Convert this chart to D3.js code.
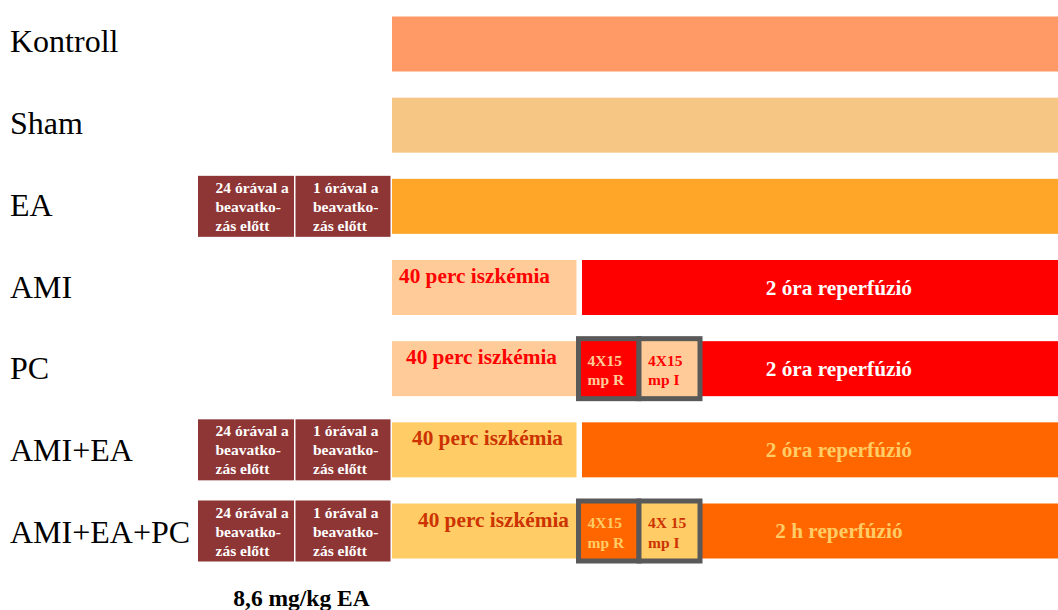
<!DOCTYPE html>
<meta charset="utf-8">
<script src="https://d3js.org/d3.v7.min.js"></script>
<style>
  body { margin: 0; background: #fff; }
  text { font-family: "Liberation Serif", "Times New Roman", serif; }
</style>
<body>
<div id="chart"></div>
<script>
// groups, top to bottom
var rows = ["Kontroll", "Sham", "EA", "AMI", "PC", "AMI+EA", "AMI+EA+PC"];

// schematic time axis (not to scale): -2 = 24 h before, -1 = 1 h before,
// 0 = start, 40 = end of ischemia, 40-44 = PC cycles, 160 = end of reperfusion
var timeMarks = [-2, -1, 0, 40, 42, 44, 160];

// rows with one continuous bar
var plainRows = ["Kontroll", "Sham", "EA"];

// EA pretreatment
var pretreatRows = ["EA", "AMI+EA", "AMI+EA+PC"];
var pretreatSteps = [
  {start: -2, end: -1, lines: ["24 órával a", "beavatko-", "zás előtt"]},
  {start: -1, end: 0, lines: ["1 órával a", "beavatko-", "zás előtt"]}
];
var doseLabel = "8,6 mg/kg EA";

// ischemia / reperfusion
var ischemiaRows = ["AMI", "PC", "AMI+EA", "AMI+EA+PC"];
var ischemiaLabel = "40 perc iszkémia";
var reperfusionLabels = ["2 óra reperfúzió", "2 óra reperfúzió", "2 óra reperfúzió", "2 h reperfúzió"];

// postconditioning cycles
var pcRows = ["PC", "AMI+EA+PC"];
var pcLabels = [
  [["4X15", "mp R"], ["4X15", "mp I"]],
  [["4X15", "mp R"], ["4X 15", "mp I"]]
];

// colours
var plainColor = {"Kontroll": "#ff9966", "Sham": "#f5c684", "EA": "#ffa528"};
var brown = "#8e3535";
var theme = {
  "AMI":       {isch: "#ffcc99", rep: "#ff0000", ischText: "#ff0000", repText: "#ffffff"},
  "PC":        {isch: "#ffcc99", rep: "#ff0000", ischText: "#ff0000", repText: "#ffffff"},
  "AMI+EA":    {isch: "#ffcc66", rep: "#ff6600", ischText: "#cc3300", repText: "#ffcc66"},
  "AMI+EA+PC": {isch: "#ffcc66", rep: "#ff6600", ischText: "#cc3300", repText: "#ffcc66"}
};
var ischTextPad = {"AMI": 7, "PC": 14, "AMI+EA": 20, "AMI+EA+PC": 26};

var width = 1058, height = 610;
var barH = 55, boxH = 61, pcH = 60;

var svg = d3.select("#chart").append("svg")
  .attr("width", width)
  .attr("height", height);

var x = d3.scaleLinear()
  .domain(timeMarks)
  .range([198, 295.5, 392, 578.5, 639, 700, 1058]);

// bar centres and label baselines
var y = d3.scalePoint()
  .domain(rows)
  .range([44, 531]);
var yLabel = d3.scalePoint()
  .domain(rows)
  .range([52, 543]);

// row labels
svg.append("g").selectAll("text")
  .data(rows)
  .join("text")
  .attr("x", 10)
  .attr("y", d => yLabel(d))
  .style("font-size", "32px")
  .text(d => d);

// plain bars
svg.append("g").selectAll("rect")
  .data(plainRows)
  .join("rect")
  .attr("x", x(0))
  .attr("y", d => y(d) - barH / 2)
  .attr("width", x(160) - x(0))
  .attr("height", barH)
  .attr("fill", d => plainColor[d]);

// pretreatment boxes
pretreatRows.forEach(function(r) {
  var g = svg.append("g");
  pretreatSteps.forEach(function(s) {
    var x0 = x(s.start), top = y(r) - boxH / 2;
    g.append("rect")
      .attr("x", x0)
      .attr("y", top)
      .attr("width", x(s.end) - x0 - 1.5)
      .attr("height", boxH)
      .attr("fill", brown);
    g.append("text")
      .attr("fill", "#fff")
      .style("font-size", "15.5px")
      .style("font-weight", "bold")
      .selectAll("tspan")
      .data(s.lines)
      .join("tspan")
      .attr("x", x0 + 17.5)
      .attr("y", (d, i) => top + 17 + i * 19)
      .text(d => d);
  });
});

svg.append("text")
  .attr("x", x(-1) + 6)
  .attr("y", 606)
  .attr("text-anchor", "middle")
  .style("font-size", "23.5px")
  .style("font-weight", "bold")
  .text(doseLabel);

// ischemia + reperfusion
ischemiaRows.forEach(function(r, i) {
  var c = theme[r], cy = y(r), hasPC = pcRows.indexOf(r) >= 0;
  var ischEnd = hasPC ? x(40) : x(40) - 2;
  var repStart = hasPC ? x(44) : x(40) + 3.5;

  svg.append("rect")
    .attr("x", x(0))
    .attr("y", cy - barH / 2)
    .attr("width", ischEnd - x(0))
    .attr("height", barH)
    .attr("fill", c.isch);
  svg.append("text")
    .attr("x", x(0) + ischTextPad[r])
    .attr("y", cy - barH / 2 + 23)
    .attr("fill", c.ischText)
    .style("font-size", "21.3px")
    .style("font-weight", "bold")
    .text(ischemiaLabel);

  svg.append("rect")
    .attr("x", repStart)
    .attr("y", cy - barH / 2)
    .attr("width", x(160) - repStart)
    .attr("height", barH)
    .attr("fill", c.rep);
  svg.append("text")
    .attr("x", x(89))
    .attr("y", cy + 7)
    .attr("text-anchor", "middle")
    .attr("fill", c.repText)
    .style("font-size", "21.3px")
    .style("font-weight", "bold")
    .text(reperfusionLabels[i]);
});

// postconditioning boxes
pcRows.forEach(function(r, i) {
  var c = theme[r], top = y(r) - pcH / 2;
  var cells = [
    {start: 40, end: 42, fill: c.rep, text: c.isch, lines: pcLabels[i][0]},
    {start: 42, end: 44, fill: c.isch, text: c.ischText, lines: pcLabels[i][1]}
  ];
  cells.forEach(function(s) {
    svg.append("rect")
      .attr("x", x(s.start))
      .attr("y", top)
      .attr("width", x(s.end) - x(s.start))
      .attr("height", pcH)
      .attr("fill", s.fill)
      .attr("stroke", "#595959")
      .attr("stroke-width", 5);
    svg.append("text")
      .attr("fill", s.text)
      .style("font-size", "15.5px")
      .style("font-weight", "bold")
      .selectAll("tspan")
      .data(s.lines)
      .join("tspan")
      .attr("x", x(s.start) + 9)
      .attr("y", (d, k) => top + 27 + k * 19.5)
      .text(d => d);
  });
});
</script>
</body>
